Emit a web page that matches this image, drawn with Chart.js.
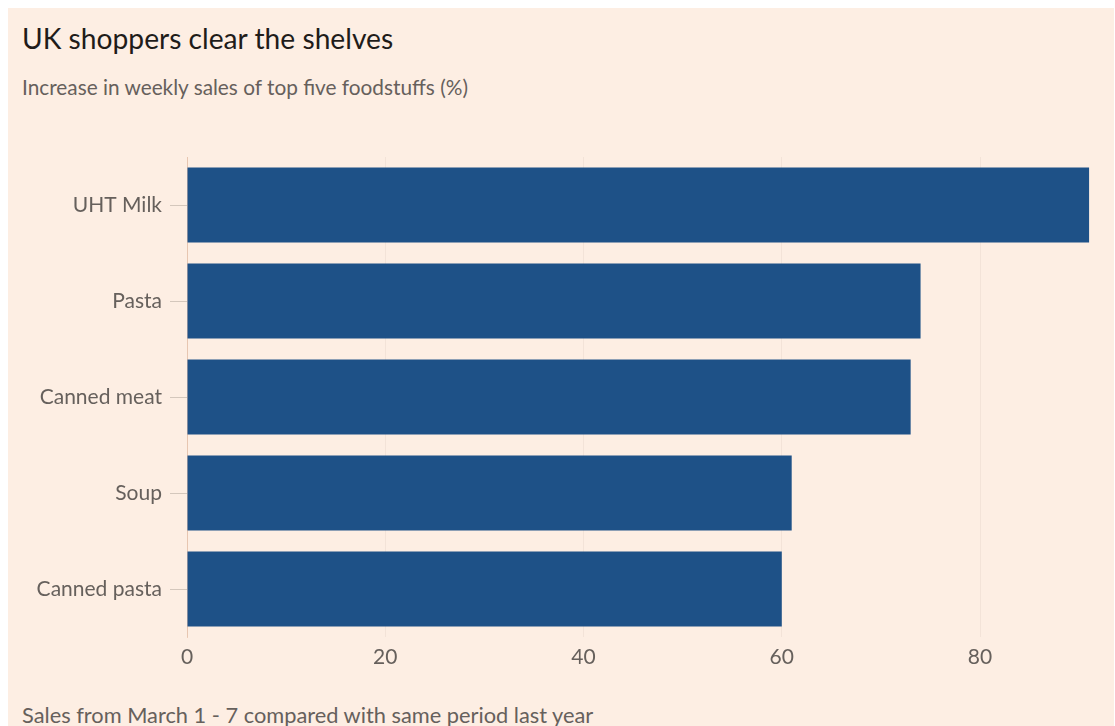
<!DOCTYPE html>
<html>
<head>
<meta charset="utf-8">
<script src="https://cdn.jsdelivr.net/npm/chart.js@4"></script>
<style>
    html, body { margin: 0; padding: 0; background: #ffffff; }
    #panel {
        position: absolute; left: 8px; top: 8px; width: 1106px; height: 718px;
        background: #fdeee3;
    }
    .txt { position: absolute; left: 22px; font-family: Lato, "Noto Sans", sans-serif; white-space: nowrap; }
    #title { top: 21px; font-size: 28.2px; color: #1f1c1a; }
    #subtitle { top: 74px; font-size: 20.8px; color: #66605c; }
    #footer { top: 701px; font-size: 21.8px; color: #66605c; }
    #chart { position: absolute; left: 0; top: 0; }
</style>
</head>
<body>
<div id="panel"></div>
<div class="txt" id="title">UK shoppers clear the shelves</div>
<div class="txt" id="subtitle">Increase in weekly sales of top five foodstuffs (%)</div>
<div class="txt" id="footer">Sales from March 1 - 7 compared with same period last year</div>
<canvas id="chart" width="1115" height="726"></canvas>
<script>
const categories = ['UHT Milk', 'Pasta', 'Canned meat', 'Soup', 'Canned pasta'];
const salesIncrease = [91, 74, 73, 61, 60];
const xTicks = [0, 20, 40, 60, 80];

const labelFont = { family: 'Lato, "Noto Sans", sans-serif', size: 21 };

new Chart(document.getElementById('chart'), {
    type: 'bar',
    data: {
        labels: categories,
        datasets: [
            {
                label: 'Increase in weekly sales (%)',
                data: salesIncrease,
                backgroundColor: '#1e5187',
                borderWidth: 0,
                categoryPercentage: 1,
                barPercentage: 0.78,
            },
        ],
    },
    options: {
        indexAxis: 'y',
        responsive: false,
        animation: false,
        layout: { padding: { top: 157, right: 16, left: 0, bottom: 0 } },
        plugins: {
            legend: { display: false },
            tooltip: { enabled: false },
        },
        scales: {
            x: {
                min: 0,
                max: 92,
                afterBuildTicks: (axis) => {
                    axis.ticks = xTicks.map((v) => ({ value: v }));
                },
                afterFit: (axis) => { axis.height = 89; },
                grid: { color: 'rgba(120, 90, 70, 0.07)', drawTicks: false },
                border: { display: false },
                ticks: { padding: 8, color: '#66605c', font: labelFont },
            },
            y: {
                afterFit: (axis) => { axis.width = 187; },
                grid: {
                    offset: false,
                    drawOnChartArea: false,
                    tickLength: 17,
                    color: 'rgba(120, 110, 100, 0.3)',
                },
                border: { display: true, color: 'rgba(220, 170, 140, 0.5)' },
                ticks: { padding: 8, color: '#66605c', font: labelFont },
            },
        },
    },
});
</script>
</body>
</html>
